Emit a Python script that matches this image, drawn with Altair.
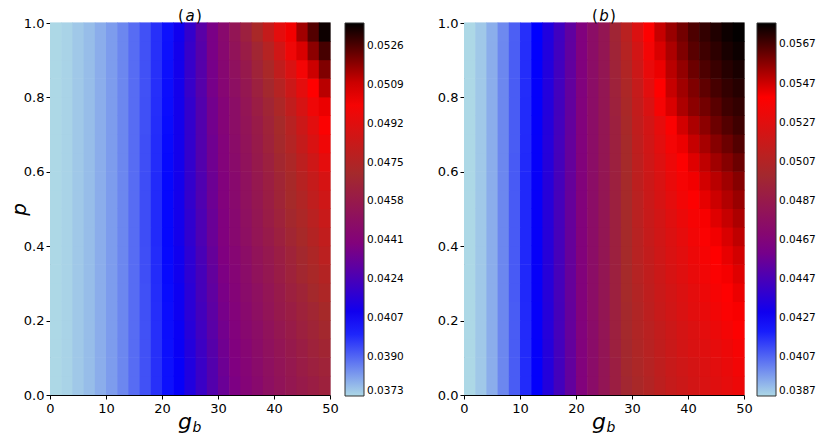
import altair as alt
import pandas as pd

# grid cell centres
G_CENTERS = [1, 3, 5, 7, 9, 11, 13, 15, 17, 19, 21, 23, 25, 27, 29, 31, 33, 35, 37, 39, 41, 43, 45, 47, 49]
P_CENTERS = [0.025, 0.075, 0.125, 0.175, 0.225, 0.275, 0.325, 0.375, 0.425, 0.475,
             0.525, 0.575, 0.625, 0.675, 0.725, 0.775, 0.825, 0.875, 0.925, 0.975]
G_HALF = 1.0
P_HALF = 0.025

# panel (a): one row per p centre (bottom to top), one value per g centre
A_ROWS = [
    [0.03730, 0.03738, 0.03754, 0.03771, 0.03795, 0.03820, 0.03852, 0.03893, 0.03934, 0.03983, 0.04032,
     0.04072, 0.04138, 0.04203, 0.04268, 0.04325, 0.04374, 0.04415, 0.04455, 0.04496, 0.04529, 0.04561, 0.04586, 0.04610, 0.04635],
    [0.03730, 0.03738, 0.03754, 0.03771, 0.03795, 0.03820, 0.03852, 0.03893, 0.03934, 0.03983, 0.04032,
     0.04072, 0.04138, 0.04203, 0.04268, 0.04333, 0.04382, 0.04423, 0.04464, 0.04504, 0.04537, 0.04569, 0.04602, 0.04627, 0.04651],
    [0.03730, 0.03738, 0.03754, 0.03771, 0.03795, 0.03820, 0.03852, 0.03893, 0.03934, 0.03983, 0.04034,
     0.04080, 0.04146, 0.04211, 0.04276, 0.04341, 0.04390, 0.04431, 0.04472, 0.04512, 0.04545, 0.04578, 0.04610, 0.04643, 0.04672],
    [0.03730, 0.03738, 0.03754, 0.03771, 0.03795, 0.03820, 0.03852, 0.03893, 0.03934, 0.03985, 0.04036,
     0.04080, 0.04154, 0.04219, 0.04284, 0.04349, 0.04398, 0.04447, 0.04480, 0.04521, 0.04561, 0.04594, 0.04627, 0.04659, 0.04692],
    [0.03730, 0.03738, 0.03754, 0.03771, 0.03795, 0.03820, 0.03852, 0.03893, 0.03936, 0.03987, 0.04038,
     0.04089, 0.04162, 0.04227, 0.04292, 0.04358, 0.04406, 0.04455, 0.04496, 0.04537, 0.04578, 0.04610, 0.04643, 0.04675, 0.04713],
    [0.03730, 0.03738, 0.03754, 0.03771, 0.03795, 0.03820, 0.03852, 0.03893, 0.03936, 0.03988, 0.04040,
     0.04089, 0.04162, 0.04235, 0.04301, 0.04366, 0.04415, 0.04464, 0.04504, 0.04545, 0.04586, 0.04627, 0.04659, 0.04700, 0.04736],
    [0.03730, 0.03738, 0.03754, 0.03771, 0.03795, 0.03820, 0.03852, 0.03893, 0.03938, 0.03990, 0.04042,
     0.04097, 0.04170, 0.04235, 0.04309, 0.04374, 0.04423, 0.04472, 0.04521, 0.04561, 0.04602, 0.04643, 0.04684, 0.04724, 0.04760],
    [0.03730, 0.03738, 0.03754, 0.03771, 0.03795, 0.03820, 0.03852, 0.03893, 0.03938, 0.03990, 0.04044,
     0.04097, 0.04170, 0.04243, 0.04317, 0.04382, 0.04431, 0.04480, 0.04529, 0.04569, 0.04610, 0.04651, 0.04692, 0.04737, 0.04786],
    [0.03730, 0.03738, 0.03754, 0.03771, 0.03795, 0.03820, 0.03852, 0.03893, 0.03940, 0.03992, 0.04046,
     0.04105, 0.04178, 0.04252, 0.04325, 0.04390, 0.04447, 0.04496, 0.04545, 0.04586, 0.04627, 0.04675, 0.04716, 0.04760, 0.04811],
    [0.03730, 0.03738, 0.03754, 0.03771, 0.03795, 0.03820, 0.03852, 0.03893, 0.03940, 0.03992, 0.04046,
     0.04105, 0.04178, 0.04252, 0.04325, 0.04390, 0.04447, 0.04504, 0.04553, 0.04602, 0.04643, 0.04692, 0.04732, 0.04781, 0.04835],
    [0.03730, 0.03738, 0.03754, 0.03771, 0.03795, 0.03820, 0.03852, 0.03893, 0.03940, 0.03992, 0.04046,
     0.04105, 0.04186, 0.04260, 0.04333, 0.04398, 0.04455, 0.04512, 0.04561, 0.04610, 0.04659, 0.04708, 0.04749, 0.04803, 0.04858],
    [0.03730, 0.03738, 0.03754, 0.03771, 0.03795, 0.03820, 0.03852, 0.03893, 0.03940, 0.03992, 0.04046,
     0.04105, 0.04186, 0.04260, 0.04333, 0.04398, 0.04455, 0.04512, 0.04569, 0.04618, 0.04667, 0.04716, 0.04770, 0.04825, 0.04884],
    [0.03730, 0.03738, 0.03754, 0.03771, 0.03795, 0.03820, 0.03852, 0.03893, 0.03938, 0.03990, 0.04044,
     0.04105, 0.04186, 0.04268, 0.04341, 0.04406, 0.04464, 0.04521, 0.04578, 0.04627, 0.04684, 0.04732, 0.04790, 0.04855, 0.04936],
    [0.03730, 0.03738, 0.03754, 0.03771, 0.03795, 0.03820, 0.03852, 0.03893, 0.03938, 0.03990, 0.04042,
     0.04105, 0.04186, 0.04268, 0.04341, 0.04406, 0.04472, 0.04529, 0.04586, 0.04643, 0.04700, 0.04757, 0.04822, 0.04896, 0.04977],
    [0.03730, 0.03738, 0.03754, 0.03771, 0.03795, 0.03820, 0.03852, 0.03893, 0.03936, 0.03988, 0.04040,
     0.04105, 0.04186, 0.04268, 0.04349, 0.04415, 0.04480, 0.04537, 0.04594, 0.04651, 0.04708, 0.04773, 0.04847, 0.04928, 0.05018],
    [0.03730, 0.03738, 0.03754, 0.03771, 0.03795, 0.03820, 0.03852, 0.03893, 0.03936, 0.03987, 0.04038,
     0.04105, 0.04186, 0.04268, 0.04349, 0.04415, 0.04480, 0.04545, 0.04610, 0.04667, 0.04732, 0.04806, 0.04887, 0.04977, 0.05059],
    [0.03730, 0.03738, 0.03754, 0.03771, 0.03795, 0.03820, 0.03852, 0.03893, 0.03934, 0.03985, 0.04036,
     0.04105, 0.04195, 0.04276, 0.04358, 0.04431, 0.04496, 0.04561, 0.04627, 0.04692, 0.04765, 0.04847, 0.04936, 0.05034, 0.05124],
    [0.03730, 0.03738, 0.03754, 0.03771, 0.03795, 0.03820, 0.03852, 0.03893, 0.03934, 0.03983, 0.04034,
     0.04105, 0.04195, 0.04276, 0.04358, 0.04439, 0.04512, 0.04578, 0.04651, 0.04724, 0.04806, 0.04896, 0.04993, 0.05099, 0.05197],
    [0.03730, 0.03738, 0.03754, 0.03771, 0.03795, 0.03820, 0.03852, 0.03893, 0.03934, 0.03983, 0.04032,
     0.04105, 0.04195, 0.04276, 0.04366, 0.04447, 0.04529, 0.04602, 0.04675, 0.04765, 0.04863, 0.04977, 0.05083, 0.05181, 0.05270],
    [0.03730, 0.03738, 0.03754, 0.03771, 0.03795, 0.03820, 0.03852, 0.03893, 0.03934, 0.03983, 0.04030,
     0.04097, 0.04186, 0.04284, 0.04366, 0.04455, 0.04545, 0.04627, 0.04724, 0.04822, 0.04936, 0.05050, 0.05156, 0.05254, 0.05344],
]

# panel (b)
B_ROWS = [
    [0.03870, 0.03899, 0.03946, 0.04013, 0.04090, 0.04176, 0.04262, 0.04357, 0.04453, 0.04548, 0.04653,
     0.04739, 0.04825, 0.04911, 0.04987, 0.05035, 0.05073, 0.05112, 0.05150, 0.05178, 0.05207, 0.05236, 0.05264, 0.05293, 0.05322],
    [0.03870, 0.03899, 0.03946, 0.04013, 0.04090, 0.04176, 0.04262, 0.04357, 0.04453, 0.04548, 0.04653,
     0.04739, 0.04825, 0.04911, 0.04997, 0.05045, 0.05083, 0.05121, 0.05159, 0.05188, 0.05217, 0.05245, 0.05274, 0.05303, 0.05341],
    [0.03870, 0.03899, 0.03946, 0.04013, 0.04090, 0.04176, 0.04264, 0.04359, 0.04455, 0.04550, 0.04653,
     0.04739, 0.04825, 0.04921, 0.04997, 0.05054, 0.05092, 0.05131, 0.05169, 0.05207, 0.05236, 0.05264, 0.05293, 0.05322, 0.05360],
    [0.03870, 0.03899, 0.03946, 0.04013, 0.04090, 0.04178, 0.04266, 0.04361, 0.04457, 0.04552, 0.04653,
     0.04739, 0.04825, 0.04921, 0.05006, 0.05064, 0.05102, 0.05140, 0.05178, 0.05217, 0.05245, 0.05283, 0.05312, 0.05350, 0.05388],
    [0.03870, 0.03899, 0.03946, 0.04013, 0.04090, 0.04180, 0.04268, 0.04363, 0.04459, 0.04554, 0.04655,
     0.04749, 0.04835, 0.04921, 0.05006, 0.05064, 0.05112, 0.05159, 0.05197, 0.05236, 0.05274, 0.05303, 0.05341, 0.05379, 0.05408],
    [0.03870, 0.03899, 0.03946, 0.04013, 0.04092, 0.04182, 0.04270, 0.04365, 0.04460, 0.04555, 0.04655,
     0.04749, 0.04835, 0.04921, 0.05016, 0.05073, 0.05121, 0.05169, 0.05207, 0.05245, 0.05283, 0.05322, 0.05360, 0.05392, 0.05427],
    [0.03870, 0.03899, 0.03946, 0.04013, 0.04092, 0.04182, 0.04270, 0.04365, 0.04460, 0.04555, 0.04655,
     0.04749, 0.04835, 0.04921, 0.05016, 0.05083, 0.05131, 0.05178, 0.05226, 0.05264, 0.05303, 0.05341, 0.05379, 0.05413, 0.05446],
    [0.03870, 0.03899, 0.03946, 0.04013, 0.04092, 0.04182, 0.04270, 0.04365, 0.04460, 0.04555, 0.04655,
     0.04749, 0.04835, 0.04921, 0.05016, 0.05092, 0.05140, 0.05188, 0.05236, 0.05274, 0.05322, 0.05360, 0.05398, 0.05432, 0.05465],
    [0.03870, 0.03899, 0.03946, 0.04013, 0.04092, 0.04182, 0.04270, 0.04365, 0.04460, 0.04555, 0.04655,
     0.04749, 0.04835, 0.04921, 0.05016, 0.05092, 0.05150, 0.05197, 0.05245, 0.05293, 0.05341, 0.05379, 0.05417, 0.05455, 0.05494],
    [0.03870, 0.03899, 0.03946, 0.04013, 0.04092, 0.04182, 0.04270, 0.04365, 0.04460, 0.04555, 0.04655,
     0.04749, 0.04835, 0.04921, 0.05016, 0.05102, 0.05159, 0.05207, 0.05264, 0.05312, 0.05360, 0.05408, 0.05446, 0.05484, 0.05522],
    [0.03870, 0.03899, 0.03946, 0.04013, 0.04092, 0.04182, 0.04270, 0.04365, 0.04460, 0.04555, 0.04655,
     0.04749, 0.04835, 0.04921, 0.05016, 0.05102, 0.05169, 0.05226, 0.05283, 0.05341, 0.05388, 0.05436, 0.05474, 0.05513, 0.05551],
    [0.03870, 0.03899, 0.03946, 0.04013, 0.04092, 0.04182, 0.04270, 0.04365, 0.04460, 0.04555, 0.04655,
     0.04749, 0.04835, 0.04921, 0.05016, 0.05112, 0.05178, 0.05236, 0.05303, 0.05360, 0.05417, 0.05465, 0.05503, 0.05541, 0.05579],
    [0.03870, 0.03899, 0.03946, 0.04013, 0.04092, 0.04180, 0.04268, 0.04363, 0.04459, 0.04554, 0.04655,
     0.04749, 0.04835, 0.04921, 0.05016, 0.05112, 0.05188, 0.05255, 0.05322, 0.05388, 0.05446, 0.05494, 0.05541, 0.05579, 0.05618],
    [0.03870, 0.03899, 0.03946, 0.04013, 0.04090, 0.04178, 0.04266, 0.04361, 0.04457, 0.04552, 0.04653,
     0.04749, 0.04835, 0.04921, 0.05016, 0.05121, 0.05197, 0.05274, 0.05350, 0.05427, 0.05484, 0.05532, 0.05579, 0.05618, 0.05656],
    [0.03870, 0.03899, 0.03946, 0.04013, 0.04090, 0.04176, 0.04264, 0.04359, 0.04455, 0.04550, 0.04653,
     0.04749, 0.04835, 0.04921, 0.05026, 0.05131, 0.05207, 0.05293, 0.05379, 0.05465, 0.05522, 0.05570, 0.05618, 0.05656, 0.05685],
    [0.03870, 0.03899, 0.03946, 0.04013, 0.04090, 0.04176, 0.04262, 0.04357, 0.04453, 0.04548, 0.04651,
     0.04749, 0.04835, 0.04930, 0.05035, 0.05140, 0.05236, 0.05360, 0.05455, 0.05522, 0.05570, 0.05608, 0.05646, 0.05685, 0.05704],
    [0.03870, 0.03899, 0.03946, 0.04013, 0.04090, 0.04174, 0.04260, 0.04355, 0.04451, 0.04546, 0.04649,
     0.04749, 0.04835, 0.04940, 0.05045, 0.05150, 0.05274, 0.05398, 0.05484, 0.05541, 0.05589, 0.05637, 0.05675, 0.05704, 0.05723],
    [0.03870, 0.03899, 0.03946, 0.04013, 0.04088, 0.04172, 0.04258, 0.04353, 0.04449, 0.04544, 0.04647,
     0.04749, 0.04835, 0.04949, 0.05064, 0.05178, 0.05303, 0.05427, 0.05503, 0.05560, 0.05618, 0.05665, 0.05694, 0.05723, 0.05742],
    [0.03870, 0.03899, 0.03946, 0.04011, 0.04086, 0.04170, 0.04255, 0.04350, 0.04446, 0.04541, 0.04645,
     0.04749, 0.04835, 0.04959, 0.05083, 0.05207, 0.05350, 0.05455, 0.05522, 0.05589, 0.05646, 0.05685, 0.05713, 0.05742, 0.05761],
    [0.03870, 0.03899, 0.03944, 0.04009, 0.04084, 0.04168, 0.04252, 0.04347, 0.04443, 0.04538, 0.04642,
     0.04749, 0.04835, 0.04968, 0.05102, 0.05245, 0.05388, 0.05484, 0.05551, 0.05608, 0.05665, 0.05704, 0.05732, 0.05761, 0.05776],
]

A_TICKS = [0.0373, 0.0390, 0.0407, 0.0424, 0.0441, 0.0458, 0.0475, 0.0492, 0.0509, 0.0526]
B_TICKS = [0.0387, 0.0407, 0.0427, 0.0447, 0.0467, 0.0487, 0.0507, 0.0527, 0.0547, 0.0567]
A_LIMITS = [0.0373, 0.0536]
B_LIMITS = [0.0387, 0.0578]
X_TICKS = [0, 10, 20, 30, 40, 50]
Y_TICKS = [0.0, 0.2, 0.4, 0.6, 0.8, 1.0]

CMAP = ["#add8e6", "#0000ff", "#800080", "#a52a2a", "#ff0000", "#000000"]

W, H = 280, 372
FONT = "DejaVu Sans"


def frame(rows):
    recs = []
    for i, p in enumerate(P_CENTERS):
        for j, g in enumerate(G_CENTERS):
            recs.append({"g0": g - G_HALF, "g1": g + G_HALF,
                         "p0": p - P_HALF, "p1": p + P_HALF, "v": rows[i][j]})
    return pd.DataFrame(recs)


def panel(rows, ticks, limits, letter, show_ytitle, legend_offset):
    n = len(CMAP)
    dom = [limits[0] + (limits[1] - limits[0]) * k / (n - 1) for k in range(n)]
    cscale = alt.Scale(domain=dom, range=CMAP, interpolate="rgb", clamp=True)
    heat = alt.Chart(frame(rows)).mark_rect(x2Offset=0.6, y2Offset=-0.6).encode(
        x=alt.X("g0:Q", scale=alt.Scale(domain=[0, 50], nice=False, zero=False),
                axis=alt.Axis(values=X_TICKS, title=None, labelFontSize=13, labelFont=FONT,
                              labelColor="black", tickColor="black", domainColor="black",
                              tickSize=4, labelPadding=3, grid=False, labelFlush=False)),
        x2="g1:Q",
        y=alt.Y("p0:Q", scale=alt.Scale(domain=[0, 1], nice=False, zero=False),
                axis=alt.Axis(values=Y_TICKS, format=".1f",
                              title="p" if show_ytitle else "",
                              titleFontSize=20, titleFont=FONT, titleFontStyle="italic",
                              titleFontWeight="normal", titleColor="black", titlePadding=-6,
                              labelFontSize=13, labelFont=FONT, labelColor="black",
                              tickColor="black", domainColor="black", tickSize=4,
                              labelPadding=2, grid=False, labelFlush=False)),
        y2="p1:Q",
        color=alt.Color("v:Q", scale=cscale,
                        legend=alt.Legend(type="gradient", values=ticks, format=".4f", title=None,
                                          orient="right", direction="vertical",
                                          gradientLength=H + 1, gradientThickness=19,
                                          gradientStrokeColor="#333333", gradientStrokeWidth=1,
                                          labelFontSize=10.5, labelFont=FONT, labelColor="black",
                                          labelOffset=3, offset=legend_offset, labelOverlap=False)),
    )
    one = pd.DataFrame({"k": [0]})
    base = alt.Chart(one)
    t_open = base.mark_text(text="(", fontSize=15, font=FONT, baseline="middle", color="black").encode(
        x=alt.value(W / 2 - 9), y=alt.value(-7))
    t_let = base.mark_text(text=letter, fontSize=15, font=FONT, fontStyle="italic",
                           baseline="middle", color="black").encode(x=alt.value(W / 2), y=alt.value(-7))
    t_close = base.mark_text(text=")", fontSize=15, font=FONT, baseline="middle", color="black").encode(
        x=alt.value(W / 2 + 9), y=alt.value(-7))
    g_lab = base.mark_text(text="g", fontSize=22, font=FONT, fontStyle="italic",
                           baseline="alphabetic", color="black").encode(
        x=alt.value(W / 2 - 5), y=alt.value(H + 34))
    b_lab = base.mark_text(text="b", fontSize=14, font=FONT, fontStyle="italic",
                           baseline="alphabetic", color="black").encode(
        x=alt.value(W / 2 + 7), y=alt.value(H + 37))
    return alt.layer(heat, t_open, t_let, t_close, g_lab, b_lab).properties(width=W, height=H)


left = panel(A_ROWS, A_TICKS, A_LIMITS, "a", True, 15)
right = panel(B_ROWS, B_TICKS, B_LIMITS, "b", False, 13)

chart = alt.hconcat(left, right, spacing=31).resolve_scale(
    color="independent").resolve_legend(color="independent").properties(
    padding={"left": 0, "top": 0, "right": 0, "bottom": 0}
).configure_view(stroke="black", strokeWidth=1).configure(font=FONT)

chart.save("out.html", embed_options={"renderer": "svg", "actions": False})
